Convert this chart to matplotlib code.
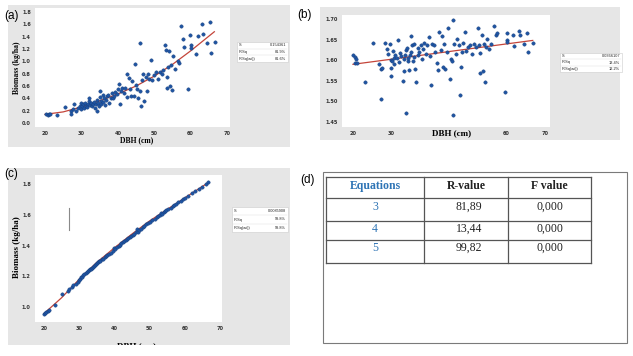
import matplotlib
matplotlib.use("Agg")
import matplotlib.pyplot as plt
from matplotlib.patches import Rectangle

# ---------------- data ----------------
a_dbh = [20.3, 20.7, 21.0, 21.4, 23.4, 25.5, 27.0, 27.2, 27.6, 28.0, 28.5, 29.0, 29.5, 29.8, 30.0, 30.2, 30.5, 30.7,
         31.0, 31.2, 31.5, 31.8, 32.0, 32.2, 32.4, 32.7, 33.0, 33.2, 33.5, 33.7, 34.0, 34.2, 34.3, 34.5, 34.8, 35.0,
         35.1, 35.3, 35.5, 35.8, 36.0, 36.3, 36.5, 36.8, 37.0, 37.3, 37.6, 38.0, 38.3, 38.6, 39.0, 39.3, 39.7, 40.0,
         40.2, 40.5, 40.8, 41.2, 41.6, 42.0, 42.4, 42.6, 43.0, 43.3, 43.6, 44.0, 44.4, 44.8, 45.0, 45.3, 45.6, 46.0,
         46.2, 46.3, 46.6, 47.0, 47.3, 47.6, 48.0, 48.3, 48.6, 49.0, 49.5, 50.0, 50.5, 51.0, 51.5, 52.0, 52.5, 52.9,
         53.2, 53.4, 53.6, 53.8, 54.0, 54.3, 54.6, 54.9, 55.2, 55.8, 56.6, 56.8, 57.4, 57.9, 58.2, 59.4, 59.9, 60.0,
         60.2, 61.5, 62.0, 63.1, 63.4, 64.5, 65.4, 65.6, 66.6]
a_bio = [0.14, 0.13, 0.14, 0.14, 0.13, 0.26, 0.20, 0.14, 0.22, 0.30, 0.19, 0.25, 0.28, 0.22, 0.32, 0.27, 0.30, 0.24,
         0.33, 0.28, 0.26, 0.30, 0.35, 0.40, 0.29, 0.32, 0.27, 0.30, 0.34, 0.25, 0.31, 0.20, 0.37, 0.33, 0.28, 0.42,
         0.52, 0.36, 0.30, 0.45, 0.34, 0.40, 0.29, 0.38, 0.43, 0.46, 0.33, 0.41, 0.48, 0.40, 0.44, 0.50, 0.47, 0.55,
         0.64, 0.31, 0.52, 0.57, 0.49, 0.56, 0.80, 0.42, 0.73, 0.55, 0.44, 0.68, 0.43, 0.96, 0.61, 0.55, 0.40, 0.52,
         1.30, 0.28, 0.70, 0.79, 0.36, 0.75, 0.52, 0.80, 0.71, 1.02, 0.70, 0.78, 0.82, 0.72, 0.83, 0.79, 0.86, 1.27,
         1.18, 0.74, 0.56, 0.90, 1.16, 0.60, 0.94, 0.54, 1.08, 0.88, 1.00, 0.98, 1.58, 1.37, 1.24, 0.55, 1.43, 1.27,
         1.21, 1.12, 1.41, 1.61, 1.44, 1.29, 1.64, 1.14, 1.32]
a_fit_x = [20, 25, 30, 35, 40, 45, 50, 55, 60, 66.5]
a_fit_y = [0.14, 0.18, 0.26, 0.36, 0.47, 0.60, 0.76, 0.95, 1.17, 1.48]

b_dbh = [20.0, 20.4, 20.8, 20.6, 21.1, 23.0, 25.2, 26.9, 27.2, 27.4, 27.5, 28.3, 28.8, 29.2, 29.6, 29.8, 30.0, 30.0,
         30.1, 30.3, 30.6, 30.8, 31.0, 31.4, 31.7, 32.0, 32.2, 32.5, 33.0, 33.2, 33.4, 33.5, 33.7, 33.9, 34.0, 34.2,
         34.4, 34.6, 34.8, 35.0, 35.2, 35.4, 35.6, 35.8, 36.0, 36.2, 36.5, 36.8, 37.0, 37.3, 37.6, 38.0, 38.3, 38.6,
         39.0, 39.3, 39.7, 40.0, 40.3, 40.6, 41.0, 41.4, 41.8, 42.2, 42.5, 42.8, 43.1, 43.4, 43.7, 44.0, 44.4, 44.8,
         45.2, 45.5, 45.8, 46.0, 46.1, 46.4, 46.8, 47.2, 47.5, 47.8, 48.0, 48.3, 48.7, 49.1, 49.5, 50.0, 50.5, 51.0,
         51.5, 52.0, 52.6, 52.8, 53.0, 53.2, 53.5, 53.8, 54.1, 54.3, 54.6, 55.0, 55.5, 56.0, 56.7, 57.2, 57.6, 59.6,
         60.0, 60.1, 60.2, 61.7, 62.0, 63.3, 63.5, 64.6, 65.2, 65.7, 66.8]
b_bio = [1.612, 1.608, 1.602, 1.594, 1.594, 1.547, 1.641, 1.592, 1.578, 1.505, 1.582, 1.641, 1.628, 1.615, 1.639,
         1.600, 1.562, 1.580, 1.597, 1.622, 1.606, 1.590, 1.612, 1.605, 1.649, 1.595, 1.618, 1.610, 1.550, 1.575,
         1.603, 1.612, 1.625, 1.472, 1.630, 1.598, 1.606, 1.576, 1.612, 1.620, 1.659, 1.637, 1.598, 1.608, 1.640,
         1.578, 1.546, 1.630, 1.612, 1.620, 1.636, 1.602, 1.628, 1.641, 1.615, 1.636, 1.656, 1.610, 1.541, 1.640,
         1.638, 1.620, 1.594, 1.576, 1.669, 1.624, 1.658, 1.584, 1.640, 1.578, 1.620, 1.678, 1.555, 1.602, 1.598,
         1.467, 1.698, 1.640, 1.616, 1.652, 1.636, 1.516, 1.584, 1.620, 1.642, 1.669, 1.622, 1.632, 1.638, 1.616,
         1.640, 1.633, 1.678, 1.638, 1.569, 1.618, 1.661, 1.574, 1.640, 1.547, 1.633, 1.652, 1.628, 1.640, 1.684,
         1.660, 1.665, 1.524, 1.665, 1.650, 1.643, 1.661, 1.635, 1.671, 1.660, 1.640, 1.665, 1.621, 1.641]
b_fit_x = [20, 66.8]
b_fit_y = [1.590, 1.648]

c_dbh = [20.0, 20.3, 20.6, 21.0, 21.3, 23.0, 25.0, 26.8, 27.2, 28.0, 28.3, 29.0, 29.6, 30.0, 30.2, 30.5, 30.8, 31.2,
         31.5, 31.8, 32.2, 32.5, 32.8, 33.0, 33.3, 33.6, 33.9, 34.2, 34.5, 34.8, 35.1, 35.4, 35.7, 36.0, 36.4, 36.8,
         37.2, 37.6, 38.0, 38.5, 39.0, 39.6, 40.0, 40.3, 40.7, 41.2, 41.6, 42.0, 42.4, 42.8, 43.2, 43.6, 44.0, 44.4,
         44.8, 45.2, 45.6, 46.0, 46.3, 46.6, 47.0, 47.5, 48.0, 48.5, 49.0, 49.6, 50.2, 50.8, 51.5, 52.0, 52.5, 53.0,
         53.3, 53.6, 54.0, 54.4, 54.8, 55.3, 56.0, 56.7, 57.0, 57.5, 58.2, 59.0, 59.5, 60.0, 61.0, 62.0, 63.0, 64.0,
         65.0, 66.0, 66.7]
c_bio = [0.955, 0.962, 0.968, 0.975, 0.980, 1.012, 1.085, 1.102, 1.115, 1.130, 1.142, 1.150, 1.165, 1.178, 1.185,
         1.192, 1.196, 1.205, 1.212, 1.220, 1.228, 1.232, 1.240, 1.246, 1.250, 1.256, 1.262, 1.268, 1.272, 1.280,
         1.286, 1.292, 1.296, 1.302, 1.310, 1.315, 1.322, 1.330, 1.336, 1.345, 1.352, 1.362, 1.382, 1.378, 1.392,
         1.400, 1.405, 1.418, 1.422, 1.430, 1.438, 1.442, 1.452, 1.458, 1.462, 1.470, 1.478, 1.485, 1.505, 1.490,
         1.498, 1.510, 1.520, 1.526, 1.538, 1.545, 1.556, 1.565, 1.575, 1.585, 1.592, 1.600, 1.610, 1.605, 1.618,
         1.622, 1.628, 1.636, 1.645, 1.660, 1.664, 1.672, 1.680, 1.690, 1.700, 1.708, 1.724, 1.740, 1.755, 1.770,
         1.784, 1.798, 1.815]
c_fit_x = [20, 25, 30, 35, 40, 45, 50, 55, 60, 66.7]
c_fit_y = [0.957, 1.06, 1.18, 1.29, 1.385, 1.475, 1.56, 1.635, 1.71, 1.81]

a_yticks = [0.0, 0.2, 0.4, 0.6, 0.8, 1.0, 1.2, 1.4, 1.6, 1.8]
b_yticks = [1.45, 1.50, 1.55, 1.60, 1.65, 1.70]
c_yticks = [1.0, 1.2, 1.4, 1.6, 1.8]
x_ticks = [20, 30, 40, 50, 60, 70]
b_xticklabels = ["20", "30", "", "", "60", "70"]   # 40 and 50 are hidden behind the axis title in (b)

a_stats = [("S", "0.154361"), ("R-Sq", "81.9%"), ("R-Sq(adj)", "81.6%")]
b_stats = [("S", "0.0366107"), ("R-Sq", "13.4%"), ("R-Sq(adj)", "12.2%")]
c_stats = [("S", "0.0085908"), ("R-Sq", "99.8%"), ("R-Sq(adj)", "99.8%")]

tbl_header = ["Equations", "R-value", "F value"]
tbl_eq = ["3", "4", "5"]
tbl_r = ["81,89", "13,44", "99,82"]
tbl_f = ["0,000", "0,000", "0,000"]

# ---------------- figure ----------------
W, H = 633, 356
fig = plt.figure(figsize=(W / 100, H / 100), dpi=100)
fig.patch.set_facecolor("white")

bg = fig.add_axes([0, 0, 1, 1], zorder=0)
bg.set_xlim(0, W)
bg.set_ylim(H, 0)
bg.axis("off")

GRAY = "#e6e6e6"
BLUE = "#1f55a3"
RED = "#c4453a"
SERIF = ["Liberation Serif", "DejaVu Serif"]
SANS = ["Liberation Sans", "DejaVu Sans"]


def px_axes(l, t, r, b):
    return fig.add_axes([l / W, 1 - b / H, (r - l) / W, (b - t) / H], zorder=1)


def style(ax, xlim, ylim, yticks, yfmt, xlabels=None):
    ax.set_facecolor("white")
    for s in ax.spines.values():
        s.set_visible(False)
    ax.set_xlim(*xlim)
    ax.set_ylim(*ylim)
    ax.set_xticks(x_ticks)
    ax.set_xticklabels(xlabels if xlabels is not None else [str(v) for v in x_ticks])
    ax.set_yticks(yticks)
    ax.set_yticklabels([yfmt.format(v) for v in yticks])
    ax.tick_params(length=0, labelsize=3.6, colors="#333333", pad=3)
    for lab in ax.get_xticklabels() + ax.get_yticklabels():
        lab.set_fontweight("bold")


def stats_box(x0, y0, w, h, rows):
    bg.add_patch(Rectangle((x0, y0), w, h, facecolor="white", edgecolor="#cccccc", lw=0.4))
    for i, (k, v) in enumerate(rows):
        yy = y0 + h * (i + 0.5) / 3
        bg.text(x0 + 2, yy, k, fontsize=2.8, va="center", ha="left", color="#222222", family=SANS)
        bg.text(x0 + w - 2, yy, v, fontsize=2.8, va="center", ha="right", color="#222222", family=SANS)
        if i < 2:
            bg.plot([x0 + 1, x0 + w - 1], [y0 + h * (i + 1) / 3] * 2, color="#dddddd", lw=0.3)


# ---- panel (a) ----
bg.add_patch(Rectangle((8, 5), 282, 142, facecolor=GRAY, edgecolor="none"))
axa = px_axes(35, 8, 230, 127)
style(axa, (17.25, 70.8), (-0.065, 1.865), a_yticks, "{:.1f}")
axa.scatter(a_dbh, a_bio, s=6, color=BLUE, edgecolors="#163d7a", linewidths=0.3, zorder=3)
axa.plot(a_fit_x, a_fit_y, color=RED, lw=0.9, zorder=2)
bg.text(137, 140, "DBH (cm)", fontsize=5.5, fontweight="bold", family=SERIF, ha="center", va="center")
bg.text(17, 68, "Biomass (kg/ha)", fontsize=5.5, fontweight="bold", family=SERIF, ha="center", va="center",
        rotation=90)
stats_box(237, 42, 51, 20, a_stats)
bg.text(4, 16, "(a)", fontsize=8.5, family=SANS, ha="left", va="center")

# ---- panel (b) ----
bg.add_patch(Rectangle((320, 7), 300, 133, facecolor=GRAY, edgecolor="none"))
axb = px_axes(342, 15, 550, 127)
style(axb, (17.14, 71.3), (1.4379, 1.7097), b_yticks, "{:.2f}", b_xticklabels)
axb.scatter(b_dbh, b_bio, s=6, color=BLUE, edgecolors="#163d7a", linewidths=0.3, zorder=3)
axb.plot(b_fit_x, b_fit_y, color=RED, lw=0.9, zorder=2)
bg.text(452, 133, "DBH (cm)", fontsize=6.5, fontweight="bold", family=SERIF, ha="center", va="center")
stats_box(560, 53, 62, 19, b_stats)
bg.text(297, 15, "(b)", fontsize=8.5, family=SANS, ha="left", va="center")

# ---- panel (c) ----
rect_c = Rectangle((8, 168), 282, 177, facecolor=GRAY, edgecolor="none")
bg.add_patch(rect_c)
axc = px_axes(35, 175, 222, 322)
style(axc, (17.44, 70.57), (0.902, 1.859), c_yticks, "{:.1f}")
axc.scatter(c_dbh, c_bio, s=6, color=BLUE, edgecolors="#163d7a", linewidths=0.3, zorder=3)
axc.plot(c_fit_x, c_fit_y, color=RED, lw=0.9, zorder=2)
axc.plot([27.1, 27.1], [1.50, 1.645], color="#8a8a8a", lw=0.8)
t = bg.text(137, 346, "DBH (cm)", fontsize=6.5, fontweight="bold", family=SERIF, ha="center", va="center",
            clip_on=True)
t.set_clip_path(rect_c)
bg.text(17, 247, "Biomass (kg/ha)", fontsize=6.5, fontweight="bold", family=SERIF, ha="center", va="center",
        rotation=90)
stats_box(232, 207, 56, 25, c_stats)
bg.text(4, 174, "(c)", fontsize=8.5, family=SANS, ha="left", va="center")

# ---- panel (d): table ----
bg.text(300, 180, "(d)", fontsize=8.5, family=SANS, ha="left", va="center")
bg.add_patch(Rectangle((323, 172), 304, 171, facecolor="white", edgecolor="#7a7a7a", lw=0.8))
cols = [326, 424, 508, 591]
rows = [177, 198, 221, 240, 263]
for x in cols:
    bg.plot([x, x], [rows[0], rows[-1]], color="#555555", lw=0.9)
for y in rows:
    bg.plot([cols[0], cols[-1]], [y, y], color="#555555", lw=0.9)
centers = [(cols[i] + cols[i + 1]) / 2 for i in range(3)]
TBLUE = "#2e74b5"
bg.text(centers[0], 186, tbl_header[0], fontsize=8.5, fontweight="bold", family=SERIF, color=TBLUE,
        ha="center", va="center")
bg.text(centers[1], 186, tbl_header[1], fontsize=8.5, fontweight="bold", family=SERIF, color="#222222",
        ha="center", va="center")
bg.text(centers[2], 186, tbl_header[2], fontsize=8.5, fontweight="bold", family=SERIF, color="#222222",
        ha="center", va="center")
row_text_y = [207, 229, 248]
for i in range(3):
    bg.text(centers[0], row_text_y[i], tbl_eq[i], fontsize=8.5, family=SERIF, color=TBLUE, ha="center", va="center")
    bg.text(centers[1] + 3, row_text_y[i], tbl_r[i], fontsize=8.5, family=SERIF, color="#222222", ha="center",
            va="center")
    bg.text(centers[2], row_text_y[i], tbl_f[i], fontsize=8.5, family=SERIF, color="#222222", ha="center",
            va="center")

fig.savefig("out.png", dpi=100)
